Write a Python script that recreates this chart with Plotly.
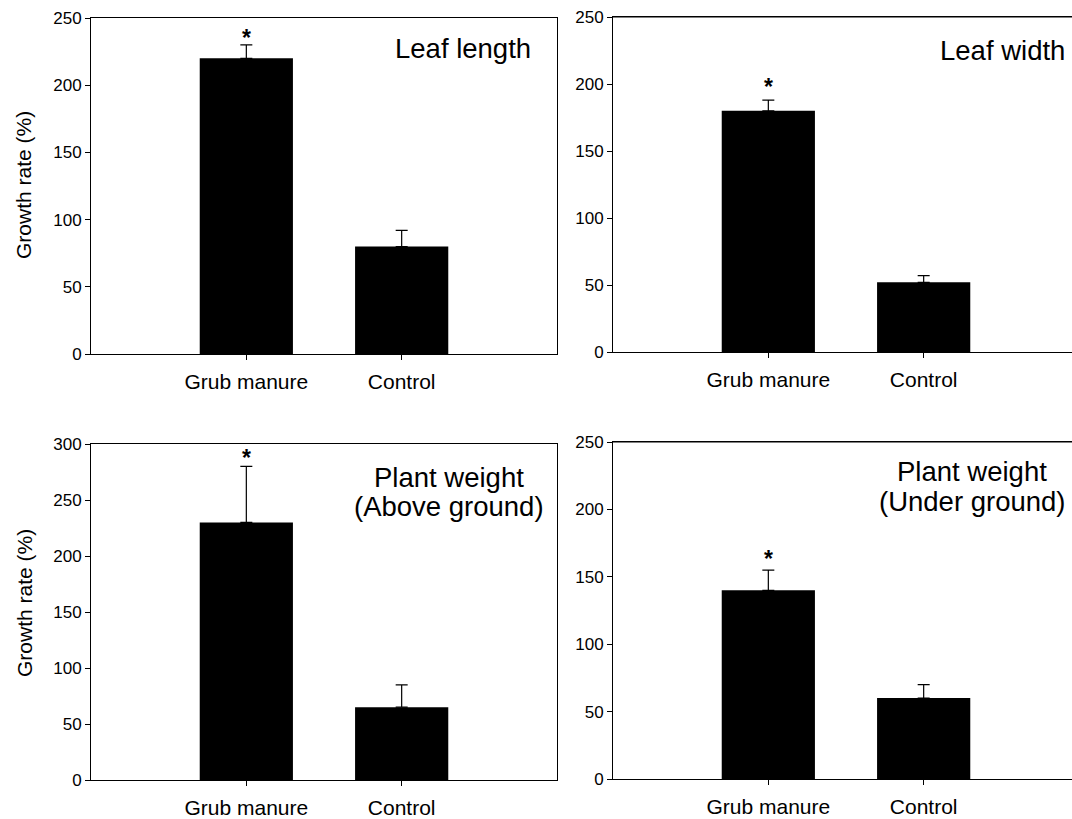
import plotly.graph_objects as go

categories = ["Grub manure", "Control"]

leaf_length = [220, 80]
leaf_length_err = [10, 12]
leaf_width = [180, 52]
leaf_width_err = [8, 5]
weight_above = [230, 65]
weight_above_err = [50, 20]
weight_under = [140, 60]
weight_under_err = [15, 10]

# height of the significance asterisk above the Grub manure bar (axis units)
asterisk_y = [238, 201, 291, 166]

panel_titles = [["Leaf length"], ["Leaf width"],
                ["Plant weight", "(Above ground)"], ["Plant weight", "(Under ground)"]]
y_max = [250, 250, 300, 250]
y_ticks = [[0, 50, 100, 150, 200, 250], [0, 50, 100, 150, 200, 250],
           [0, 50, 100, 150, 200, 250, 300], [0, 50, 100, 150, 200, 250]]
y_title = "Growth rate (%)"

W, H = 1072, 819
FONT = "Arial, 'Liberation Sans', sans-serif"

panels = [
    (leaf_length, leaf_length_err),
    (leaf_width, leaf_width_err),
    (weight_above, weight_above_err),
    (weight_under, weight_under_err),
]
# pixel boxes of plot areas (left, top, right, bottom)
boxes = [(91, 18, 557, 354), (613, 17, 1072, 352), (91, 444, 557, 780), (613, 442, 1072, 779)]
# title line centres (x centre px, y centre px per line)
title_pos = [
    (463, [48]),
    (1002, [50]),
    (449, [477, 506]),
    (972, [472, 501]),
]

fig = go.Figure()
layout = dict(
    width=W, height=H, margin=dict(l=0, r=0, t=0, b=0, autoexpand=False),
    paper_bgcolor="white", plot_bgcolor="white", showlegend=False,
    font=dict(family=FONT, color="black"),
)

annotations = []
px_per_unit = (557 - 91) / 3.0
for i, ((vals, errs), box) in enumerate(zip(panels, boxes)):
    n = i + 1
    xa = "xaxis" if n == 1 else f"xaxis{n}"
    ya = "yaxis" if n == 1 else f"yaxis{n}"
    xr = "x" if n == 1 else f"x{n}"
    yr = "y" if n == 1 else f"y{n}"
    l, t, r, b = box
    fig.add_trace(go.Bar(
        x=categories, y=vals, xaxis=xr, yaxis=yr, width=0.6,
        marker=dict(color="black", line=dict(width=0)),
        error_y=dict(type="data", array=errs, arrayminus=[0, 0], symmetric=False,
                     color="black", thickness=1.2, width=6),
        hoverinfo="x+y",
    ))
    x0 = -1.0
    x1 = x0 + (r - l) / px_per_unit
    left_panel = (i % 2 == 0)
    layout[xa] = dict(
        domain=[l / W, r / W], anchor=yr, type="category", range=[x0, x1],
        showline=True, linecolor="black", linewidth=1, mirror=True,
        ticks="outside", ticklen=5, tickcolor="black", tickwidth=1,
        tickfont=dict(size=21, family=FONT, color="black"), ticklabelstandoff=4,
        showgrid=False, zeroline=False, fixedrange=True, automargin=False,
    )
    layout[ya] = dict(
        domain=[1 - b / H, 1 - t / H], anchor=xr, range=[0, y_max[i]],
        tickvals=y_ticks[i],
        showline=True, linecolor="black", linewidth=1, mirror=left_panel,
        ticks="outside", ticklen=5, tickcolor="black", tickwidth=1,
        tickfont=dict(size=17, family=FONT, color="black"),
        showgrid=False, zeroline=False, fixedrange=True, automargin=False,
    )
    if left_panel:
        annotations.append(dict(
            x=24 / W, y=1 - ((185 if i == 0 else 603) / H), xref="paper", yref="paper",
            text=y_title, textangle=-90, showarrow=False,
            xanchor="center", yanchor="middle",
            font=dict(size=21, family=FONT, color="black"),
        ))
    # significance asterisk above first bar
    annotations.append(dict(
        x=categories[0], y=asterisk_y[i], xref=xr, yref=yr,
        text="<b>*</b>", showarrow=False, yanchor="middle", yshift=-4,
        font=dict(size=23, family=FONT, color="black"),
    ))
    # panel title lines
    cx, ys = title_pos[i]
    for line, yc in zip(panel_titles[i], ys):
        annotations.append(dict(
            x=cx / W, y=1 - yc / H, xref="paper", yref="paper",
            text=line, showarrow=False, xanchor="center", yanchor="middle",
            font=dict(size=27.5, family=FONT, color="black"),
        ))

# top border of right-hand panels (their right edges are cut off)
shapes = []
for i in (1, 3):
    l, t, r, b = boxes[i]
    shapes.append(dict(type="line", xref="paper", yref="paper",
                       x0=l / W, x1=1, y0=1 - t / H, y1=1 - t / H,
                       line=dict(color="black", width=1)))

layout["annotations"] = annotations
layout["shapes"] = shapes
fig.update_layout(**layout)
fig.write_html(
    "out.html",
    config={"displayModeBar": False},
    post_script="document.body.style.margin='0';document.body.style.overflow='hidden';",
)
